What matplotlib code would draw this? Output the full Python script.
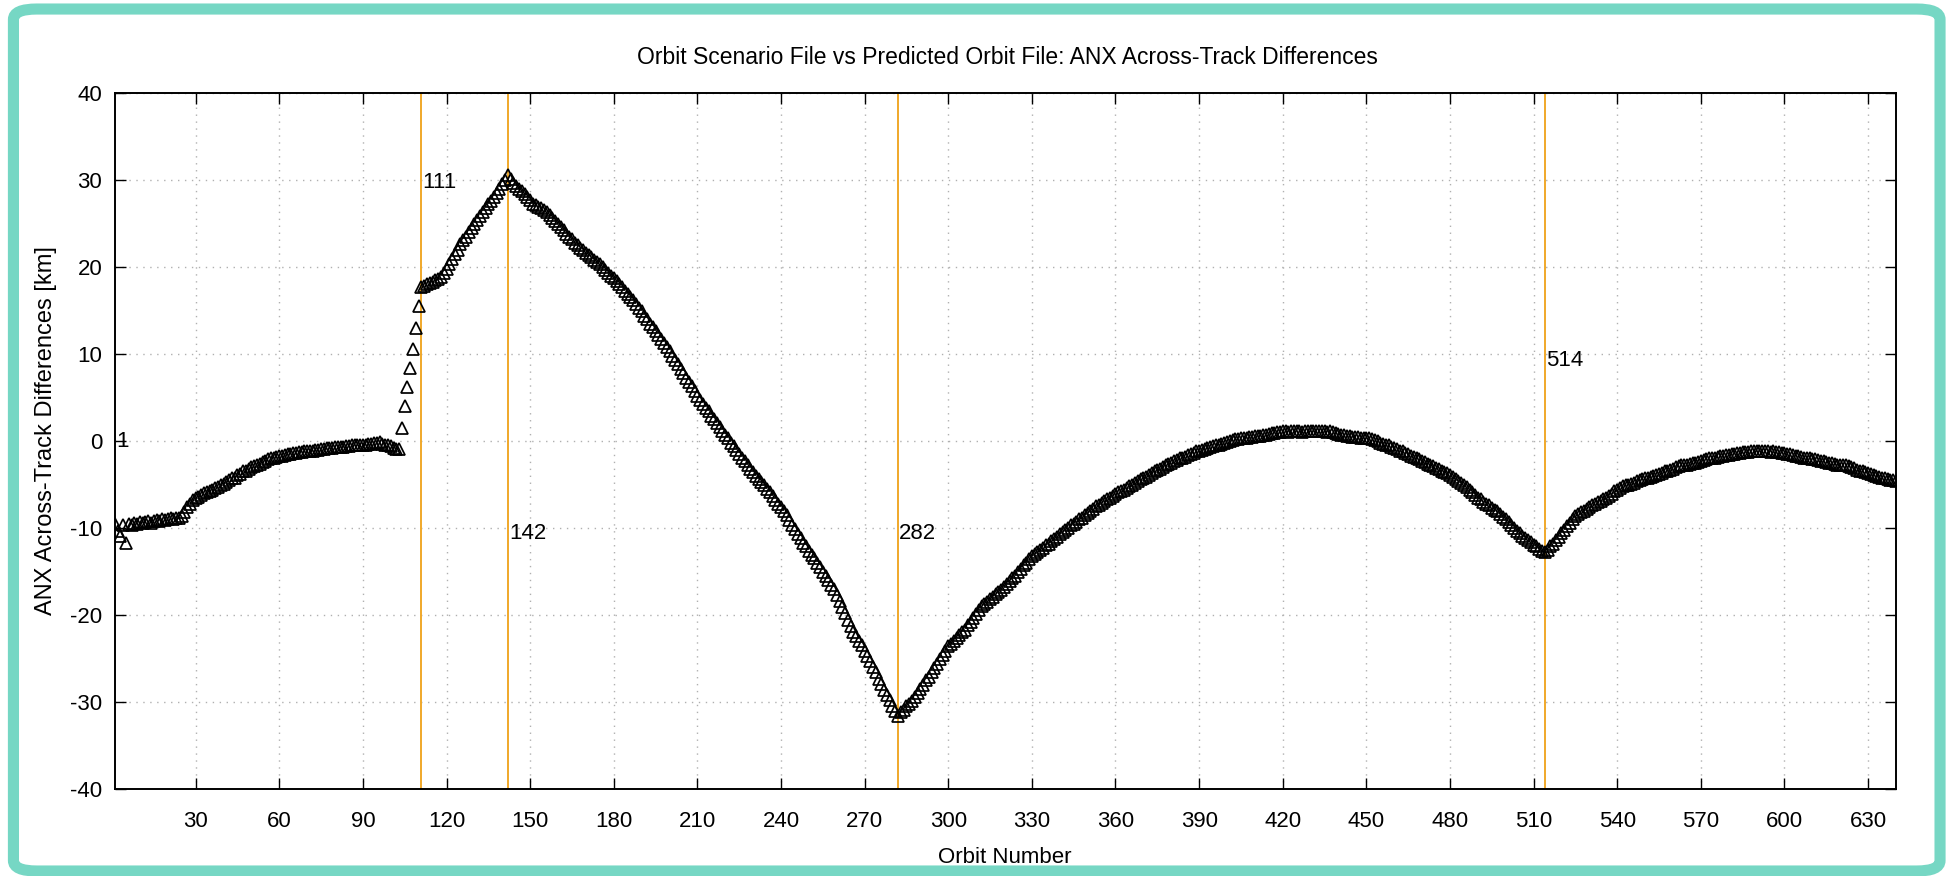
import matplotlib
matplotlib.use('Agg')
import matplotlib.pyplot as plt
from matplotlib.patches import FancyBboxPatch

# ANX across-track differences [km], one value per orbit (orbit 1 .. 640)
diff_km = [
    -9.5, -10.4, -10.9, -9.7, -11.7, -9.5, -9.6, -9.4, -9.5, -9.3,
    -9.4, -9.3, -9.2, -9.4, -9.2, -9.1, -9.2, -9.0, -9.1, -9.0,
    -8.9, -9.0, -8.9, -8.8, -8.6, -8.2, -7.6, -7.2, -6.8, -6.5,
    -6.4, -6.2, -6.0, -5.9, -5.7, -5.6, -5.4, -5.3, -5.0, -4.9,
    -4.7, -4.5, -4.3, -4.2, -3.9, -3.8, -3.5, -3.4, -3.2, -3.0,
    -2.9, -2.7, -2.6, -2.4, -2.3, -2.1, -2.0, -1.9, -1.8, -1.7,
    -1.7, -1.6, -1.5, -1.5, -1.4, -1.4, -1.3, -1.3, -1.2, -1.2,
    -1.2, -1.1, -1.0, -1.0, -0.9, -0.9, -0.85, -0.8, -0.8, -0.7,
    -0.7, -0.7, -0.65, -0.6, -0.6, -0.5, -0.5, -0.5, -0.45, -0.4,
    -0.4, -0.3, -0.3, -0.2, -0.2, -0.1, -0.3, -0.4, -0.5, -0.6,
    -0.8, -0.9, -0.9, 1.5, 4.0, 6.2, 8.4, 10.6, 13.0, 15.5,
    17.7, 17.8, 18.0, 18.2, 18.3, 18.5, 18.6, 18.8, 19.3, 19.8,
    20.4, 20.9, 21.5, 22.0, 22.6, 23.1, 23.5, 24.0, 24.5, 24.9,
    25.4, 25.9, 26.3, 26.8, 27.2, 27.6, 28.1, 28.5, 29.0, 29.5,
    30.0, 30.6, 30.1, 29.7, 29.3, 29.0, 28.7, 28.4, 28.0, 27.7,
    27.3, 27.1, 26.9, 26.8, 26.6, 26.3, 26.0, 25.6, 25.3, 24.9,
    24.6, 24.2, 23.8, 23.5, 23.2, 22.8, 22.5, 22.2, 21.9, 21.6,
    21.4, 21.1, 20.8, 20.6, 20.3, 20.0, 19.7, 19.3, 19.0, 18.7,
    18.4, 18.0, 17.7, 17.3, 16.9, 16.6, 16.2, 15.8, 15.3, 14.9,
    14.4, 14.0, 13.5, 13.1, 12.6, 12.2, 11.7, 11.3, 10.8, 10.3,
    9.8, 9.3, 8.8, 8.3, 7.8, 7.3, 6.8, 6.3, 5.8, 5.2,
    4.75, 4.3, 3.8, 3.4, 2.9, 2.5, 2.1, 1.6, 1.2, 0.7,
    0.3, -0.2, -0.6, -1.0, -1.5, -1.9, -2.3, -2.8, -3.2, -3.6,
    -4.0, -4.4, -4.7, -5.1, -5.5, -5.9, -6.3, -6.8, -7.2, -7.6,
    -8.0, -8.5, -9.1, -9.6, -10.1, -10.7, -11.2, -11.7, -12.1, -12.6,
    -13.1, -13.5, -14.0, -14.5, -15.0, -15.5, -16.0, -16.5, -17.0, -17.7,
    -18.4, -19.1, -19.8, -20.6, -21.3, -21.9, -22.4, -23.0, -23.5, -24.1,
    -24.7, -25.3, -26.0, -26.6, -27.3, -27.9, -28.6, -29.2, -29.8, -30.5,
    -31.0, -31.6, -31.2, -30.9, -30.5, -30.2, -29.9, -29.4, -29.0, -28.5,
    -28.0, -27.5, -27.1, -26.6, -26.1, -25.6, -25.1, -24.6, -24.1, -23.6,
    -23.3, -23.0, -22.6, -22.3, -22.0, -21.7, -21.2, -20.8, -20.3, -19.9,
    -19.4, -19.0, -18.7, -18.5, -18.2, -17.9, -17.6, -17.4, -17.1, -16.8,
    -16.4, -16.1, -15.8, -15.5, -15.1, -14.7, -14.3, -14.0, -13.6, -13.2,
    -13.0, -12.7, -12.5, -12.3, -12.0, -11.8, -11.5, -11.3, -11.0, -10.7,
    -10.5, -10.2, -10.0, -9.7, -9.5, -9.3, -9.0, -8.8, -8.5, -8.3,
    -8.0, -7.8, -7.5, -7.3, -7.1, -6.9, -6.7, -6.5, -6.3, -6.1,
    -5.9, -5.7, -5.6, -5.4, -5.2, -5.0, -4.8, -4.6, -4.4, -4.2,
    -4.1, -3.9, -3.7, -3.5, -3.3, -3.2, -3.0, -2.8, -2.6, -2.5,
    -2.3, -2.2, -2.0, -1.9, -1.8, -1.6, -1.5, -1.4, -1.2, -1.1,
    -1.0, -0.9, -0.8, -0.7, -0.6, -0.5, -0.4, -0.3, -0.2, -0.1,
    0.0, 0.1, 0.2, 0.2, 0.3, 0.4, 0.4, 0.5, 0.5, 0.6,
    0.6, 0.6, 0.7, 0.7, 0.8, 0.9, 0.9, 1.0, 1.0, 1.1,
    1.1, 1.0, 1.1, 1.2, 1.1, 1.1, 1.0, 1.1, 1.2, 1.1,
    1.2, 1.15, 1.1, 1.2, 1.1, 1.0, 1.1, 1.0, 0.9, 0.8,
    0.7, 0.7, 0.6, 0.6, 0.5, 0.5, 0.5, 0.4, 0.4, 0.4,
    0.3, 0.2, 0.1, 0.0, -0.2, -0.3, -0.4, -0.5, -0.7, -0.8,
    -0.9, -1.1, -1.2, -1.4, -1.5, -1.7, -1.8, -2.0, -2.1, -2.3,
    -2.4, -2.6, -2.7, -2.9, -3.1, -3.2, -3.4, -3.6, -3.7, -3.9,
    -4.1, -4.4, -4.6, -4.8, -5.1, -5.3, -5.6, -5.9, -6.2, -6.5,
    -6.7, -7.0, -7.2, -7.4, -7.7, -7.9, -8.1, -8.4, -8.7, -9.0,
    -9.3, -9.7, -10.0, -10.3, -10.6, -10.9, -11.1, -11.4, -11.6, -11.9,
    -12.1, -12.4, -12.6, -12.8, -12.5, -12.1, -11.8, -11.4, -11.0, -10.6,
    -10.2, -9.8, -9.4, -9.0, -8.6, -8.4, -8.2, -8.0, -7.8, -7.6,
    -7.4, -7.2, -7.0, -6.9, -6.7, -6.5, -6.3, -6.1, -5.8, -5.6,
    -5.4, -5.2, -5.1, -5.0, -4.9, -4.8, -4.6, -4.5, -4.4, -4.3,
    -4.2, -4.1, -4.0, -3.9, -3.8, -3.7, -3.5, -3.4, -3.3, -3.2,
    -3.0, -2.9, -2.8, -2.7, -2.7, -2.6, -2.5, -2.5, -2.4, -2.3,
    -2.2, -2.1, -2.0, -2.0, -1.9, -1.8, -1.7, -1.7, -1.6, -1.6,
    -1.5, -1.5, -1.4, -1.4, -1.3, -1.3, -1.3, -1.2, -1.2, -1.2,
    -1.2, -1.1, -1.2, -1.2, -1.3, -1.2, -1.3, -1.3, -1.4, -1.4,
    -1.5, -1.5, -1.6, -1.7, -1.7, -1.8, -1.9, -1.9, -2.0, -2.1,
    -2.1, -2.2, -2.3, -2.3, -2.4, -2.5, -2.5, -2.6, -2.7, -2.7,
    -2.8, -2.8, -2.9, -3.0, -3.1, -3.3, -3.4, -3.5, -3.6, -3.7,
    -3.8, -3.9, -4.0, -4.1, -4.2, -4.3, -4.4, -4.5, -4.5, -4.6,
]
orbits = list(range(1, len(diff_km) + 1))

# marked orbits (orange lines) and where their labels sit
event_orbits = [111, 142, 282, 514]
event_label_y = [29.7, -10.6, -10.6, 9.3]

xticks = list(range(30, 631, 30))
yticks = list(range(-40, 41, 10))

plt.rcParams['font.family'] = ['Liberation Sans', 'DejaVu Sans']
plt.rcParams['axes.unicode_minus'] = False
fs = 16

fig = plt.figure(figsize=(19.49, 8.76), dpi=100)

# teal rounded frame around everything
frame = FancyBboxPatch((0.0069, 0.0057), 0.9885, 0.984,
                       boxstyle='round,pad=0,rounding_size=0.012',
                       transform=fig.transFigure, facecolor='white',
                       edgecolor='#76d7c4', linewidth=8, zorder=-10)
fig.patches.append(frame)

ax = fig.add_axes([0.0589, 0.0993, 0.9139, 0.7945])
ax.set_facecolor('none')

ax.plot(orbits, diff_km, linestyle='none', marker='^', markersize=8,
        markerfacecolor='none', markeredgecolor='black', markeredgewidth=1.25,
        zorder=3)

for orb, ly in zip(event_orbits, event_label_y):
    ax.axvline(orb, color='#f0a82a', linewidth=1.4, zorder=2)
    ax.text(orb + 0.4, ly, str(orb), fontsize=fs, ha='left', va='center', zorder=4)
ax.text(1.4, 0, '1', fontsize=fs, ha='left', va='center', zorder=4)

ax.set_xlim(1, 640)
ax.set_ylim(-40, 40)
ax.set_xticks(xticks)
ax.set_yticks(yticks)
ax.tick_params(direction='in', length=8, width=1.0, top=True, right=True,
               labelsize=fs)
ax.tick_params(axis='x', pad=16)
ax.tick_params(axis='y', pad=9)
ax.grid(True, color='#b0b0b0', linestyle=(0, (1, 4)), linewidth=1.0)
for s in ax.spines.values():
    s.set_linewidth(1.4)

fig.text(0.5167, 0.934, 'Orbit Scenario File vs Predicted Orbit File: ANX Across-Track Differences',
         ha='center', va='center', fontsize=16.5)
fig.text(0.5155, 0.021, 'Orbit Number', ha='center', va='center', fontsize=fs)
fig.text(0.0236, 0.509, 'ANX Across-Track Differences [km]', ha='center', va='center',
         rotation=90, fontsize=17)

fig.savefig('out.png', dpi=100)
